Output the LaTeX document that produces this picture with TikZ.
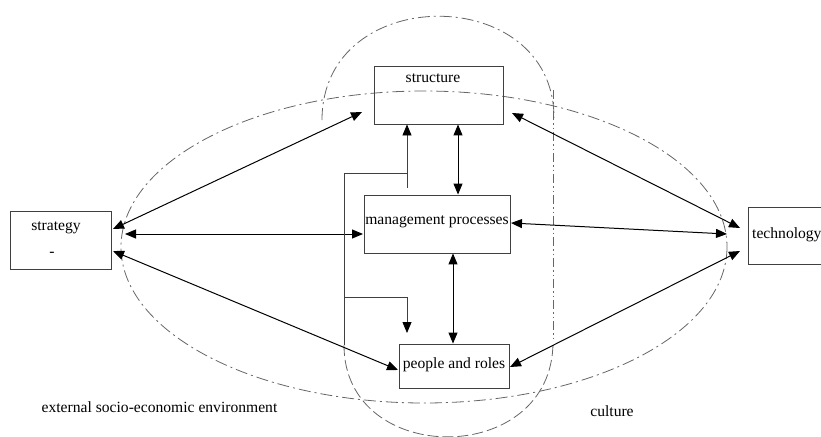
\documentclass[tikz,border=0pt]{standalone}
\usepackage{fontspec}
\setmainfont{Liberation Serif}
\usetikzlibrary{arrows.meta}
\begin{document}
\begin{tikzpicture}[x=1pt,y=-1pt,
  box/.style={draw=black!75, line width=0.9pt, rectangle, inner sep=0pt},
  lbl/.style={font=\fontsize{15.6}{18}\selectfont, inner sep=0pt, text=black},
  conn/.style={line width=1pt, draw=black},
  feed/.style={line width=0.8pt, draw=black!75},
  onetip/.style={-{Triangle[length=11pt,width=9pt,color=black]}},
  twotip/.style={{Triangle[length=11pt,width=9pt]}-{Triangle[length=11pt,width=9pt]}},
  envline/.style={draw=black!60, line width=0.8pt, dash pattern=on 12pt off 4pt on 2pt off 4pt},
  dotline/.style={draw=black!60, line width=0.8pt, dash pattern=on 9pt off 3pt on 1.5pt off 3pt on 1.5pt off 3pt},
  longdash/.style={draw=black!60, line width=0.8pt, dash pattern=on 11pt off 4pt}
]
\useasboundingbox (0,0) rectangle (821,436);
\clip (0,0) rectangle (821,436);

% background dashed shapes
\draw[envline] (424,247) ellipse [x radius=303, y radius=156];
\draw[envline] (322,120) .. controls (322,-18) and (554,-18) .. (554,118);
\draw[dotline] (553,90) -- (553,342);
\draw[longdash] (344,345) .. controls (344,468) and (553,468) .. (553,342);

% boxes
\node[box, minimum width=129pt, minimum height=58pt] (structure) at (438.5,95) {};
\node[box, minimum width=146pt, minimum height=58pt] (mgmt) at (437,224) {};
\node[box, minimum width=110pt, minimum height=44pt] (people) at (454,366) {};
\node[box, minimum width=101pt, minimum height=58pt] (strategy) at (60.5,240) {};
\node[box, minimum width=102pt, minimum height=57pt] (technology) at (799,235.5) {};

% labels
\node[lbl] (tstructure) at (433,78) {structure};
\node[lbl] (tstrategy) at (56,228) {strategy};
\node[lbl] (tdash) at (52,254) {-};
\node[lbl] (tmgmt) at (437,222) {management processes};
\node[lbl] (tpeople) at (454,365) {people and roles};
\node[lbl, anchor=west] (ttech) at (752,235) {technology};
\node[lbl] (tenv) at (159.5,407) {external socio-economic environment};
\node[lbl] (tculture) at (612,411) {culture};

% arrow end coordinates
\coordinate (sA) at (113,229);
\coordinate (sB) at (125,234);
\coordinate (sC) at (113,251);
\coordinate (stL) at (362,112);
\coordinate (stR) at (512,113);
\coordinate (mL) at (363,234);
\coordinate (mR) at (511,223);
\coordinate (pL) at (398,370);
\coordinate (pR) at (510,367);
\coordinate (tA) at (740,228);
\coordinate (tB) at (727,234);
\coordinate (tC) at (740,251);

% diagonal / horizontal connectors
\draw[conn, twotip] (sA) -- (stL);
\draw[conn, twotip] (sB) -- (mL);
\draw[conn, twotip] (sC) -- (pL);
\draw[conn, twotip] (tA) -- (stR);
\draw[conn, twotip] (tB) -- (mR);
\draw[conn, twotip] (tC) -- (pR);

% vertical connectors
\draw[conn, twotip] (structure.south -| 458,0) -- (mgmt.north -| 458,0);
\draw[conn, twotip] (mgmt.south -| 453,0) -- (people.north -| 453,0);

% feedback path
\coordinate (f0) at (407,188);
\coordinate (f1) at (407,173);
\coordinate (f2) at (344,173);
\coordinate (f3) at (344,345);
\coordinate (f4) at (344,297);
\coordinate (f5) at (407,297);
\coordinate (f6) at (407,333);
\draw[feed, onetip] (f0) -- (structure.south -| f0);
\draw[feed] (f1) -- (f2) -- (f3);
\draw[feed, onetip] (f4) -- (f5) -- (f6);
\end{tikzpicture}
\end{document}
